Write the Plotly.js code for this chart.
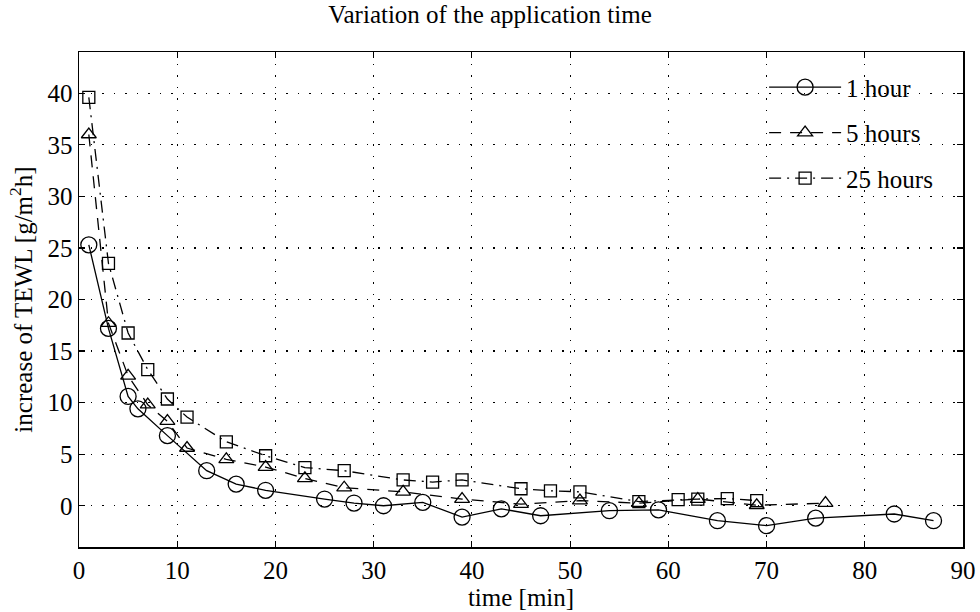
<!DOCTYPE html>
<html>
<head>
<meta charset="utf-8">
<script src="https://cdn.plot.ly/plotly-3.0.1.min.js"></script>
<style>html,body{margin:0;padding:0;background:#fff;}#chart{width:980px;height:612px;}</style>
</head>
<body>
<div id="chart"></div>
<script>
// 1 hour
const x1h = [1, 3, 5, 6, 9, 13, 16, 19, 25, 28, 31, 35, 39, 43, 47, 54, 59, 65, 70, 75, 83, 87];
const y1h = [25.3, 17.2, 10.6, 9.4, 6.8, 3.4, 2.1, 1.5, 0.65, 0.26, 0.0, 0.33, -1.1, -0.3, -0.97, -0.48, -0.4, -1.45, -1.93, -1.2, -0.8, -1.45];
// 5 hours
const x5h = [1, 3, 5, 7, 9, 11, 15, 19, 23, 27, 33, 39, 45, 51, 57, 63, 69, 76];
const y5h = [36, 17.7, 12.6, 9.8, 8.2, 5.6, 4.5, 3.75, 2.65, 1.75, 1.35, 0.65, 0.15, 0.5, 0.25, 0.65, 0.05, 0.25];
// 25 hours
const x25h = [1, 3, 5, 7, 9, 11, 15, 19, 23, 27, 33, 36, 39, 45, 48, 51, 57, 61, 63, 66, 69];
const y25h = [39.6, 23.5, 16.75, 13.2, 10.35, 8.6, 6.2, 4.85, 3.7, 3.4, 2.5, 2.3, 2.5, 1.65, 1.45, 1.35, 0.4, 0.6, 0.65, 0.7, 0.5];

const names = ['1 hour', '5 hours', '25 hours'];
const xTicks = [0, 10, 20, 30, 40, 50, 60, 70, 80, 90];
const yTicks = [0, 5, 10, 15, 20, 25, 30, 35, 40];

const fontFam = 'Times New Roman, Liberation Serif, DejaVu Serif, serif';

const traces = [
  {x: x1h, y: y1h, name: names[0], legendgroup: 'a', mode: 'lines+markers', type: 'scatter',
   line: {color: '#000', width: 1.3, dash: 'solid'},
   marker: {symbol: 'circle-open', size: 16, color: '#000', line: {width: 1.3, color: '#000'}}},
  {x: x5h, y: y5h, name: names[1], legendgroup: 'b', mode: 'lines+markers', type: 'scatter',
   line: {color: '#000', width: 1.3, dash: '12px,9px'},
   marker: {symbol: 'triangle-up-open', size: 13, color: '#000', line: {width: 1.3, color: '#000'}}},
  {x: x25h, y: y25h, name: names[2], legendgroup: 'c', mode: 'lines+markers', type: 'scatter',
   line: {color: '#000', width: 1.3, dash: '12px,6px,2px,6px'},
   marker: {symbol: 'square-open', size: 12, color: '#000', line: {width: 1.3, color: '#000'}}}
];

const axisCommon = {
  showline: true, linecolor: '#000', linewidth: 1.5, mirror: 'ticks',
  ticks: 'inside', ticklen: 6, tickwidth: 1.2, tickcolor: '#000',
  showgrid: true, gridcolor: '#000', gridwidth: 1.2, griddash: '1.5px,10px',
  zeroline: false,
  tickfont: {family: fontFam, size: 25, color: '#000'}
};

const layout = {
  width: 980, height: 612,
  paper_bgcolor: '#fff', plot_bgcolor: '#fff',
  margin: {l: 79, r: 17, t: 52, b: 65},
  font: {family: fontFam, color: '#000', size: 24},
  title: {text: 'Variation of the application time', x: 0.5, xanchor: 'center', y: 0.976, yanchor: 'middle',
          font: {family: fontFam, size: 25, color: '#000'}},
  xaxis: Object.assign({}, axisCommon, {
    range: [0, 90], tickvals: xTicks, ticktext: xTicks.map(String),
    title: {text: 'time [min]', standoff: 0, font: {family: fontFam, size: 25, color: '#000'}}
  }),
  yaxis: Object.assign({}, axisCommon, {
    range: [-4, 44], tickvals: yTicks, ticktext: yTicks.map(String),
    title: {text: 'increase of TEWL [g/m<sup>2</sup>h]', standoff: 8, font: {family: fontFam, size: 25, color: '#000'}}
  }),
  showlegend: true,
  legend: {x: 0.775, xanchor: 'left', y: 0.975, yanchor: 'top', bgcolor: 'rgba(0,0,0,0)',
           borderwidth: 0, itemwidth: 72, traceorder: 'grouped', tracegroupgap: 10,
           font: {family: fontFam, size: 25, color: '#000'}}
};

Plotly.newPlot('chart', traces, layout, {displayModeBar: false, staticPlot: true});
</script>
</body>
</html>
